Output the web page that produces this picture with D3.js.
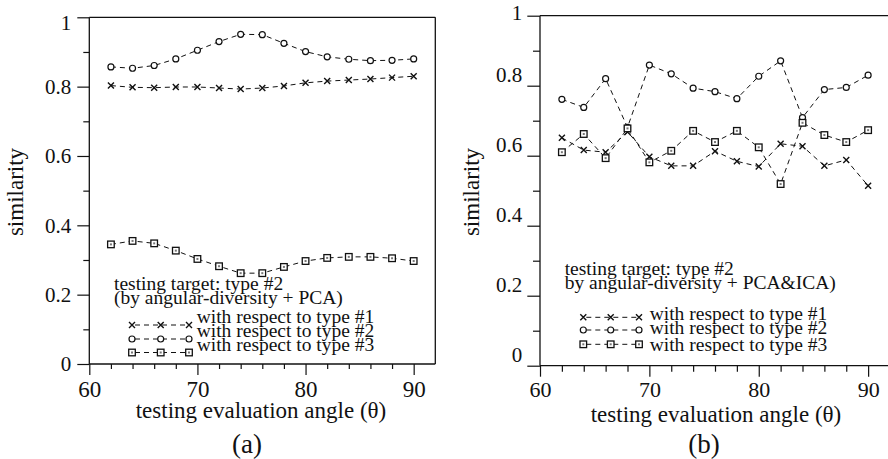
<!DOCTYPE html>
<html><head><meta charset="utf-8">
<script src="https://cdn.jsdelivr.net/npm/d3@7"></script>
<style>html,body{margin:0;padding:0;background:#fff;}svg{display:block;}</style>
</head><body><svg id="c" width="888" height="459"></svg>
<script>
const angles = [62,64,66,68,70,72,74,76,78,80,82,84,86,88,90];
const xTicksMajor = [60,70,80,90];
const yTickLabels = ["0","0.2","0.4","0.6","0.8","1"];
const yTicksMajor = [0,0.2,0.4,0.6,0.8,1];
const yTicksMinor = [0.1,0.3,0.5,0.7,0.9];
const xTicksMinor = [62,64,66,68,72,74,76,78,82,84,86,88];

// panel (a): angular-diversity + PCA
const aType1 = [0.803,0.798,0.797,0.799,0.799,0.796,0.793,0.796,0.802,0.811,0.816,0.819,0.822,0.826,0.830];
const aType2 = [0.857,0.853,0.861,0.880,0.905,0.930,0.951,0.950,0.925,0.901,0.886,0.879,0.875,0.876,0.880];
const aType3 = [0.345,0.355,0.348,0.327,0.303,0.282,0.262,0.262,0.280,0.297,0.306,0.309,0.309,0.305,0.297];

// panel (b): angular-diversity + PCA&ICA
const bType1 = [0.651,0.616,0.610,0.668,0.597,0.571,0.571,0.613,0.584,0.569,0.634,0.627,0.571,0.588,0.514];
const bType2 = [0.761,0.738,0.820,0.681,0.859,0.834,0.793,0.783,0.763,0.827,0.871,0.709,0.789,0.795,0.830];
const bType3 = [0.610,0.662,0.593,0.678,0.581,0.614,0.671,0.639,0.671,0.624,0.519,0.694,0.659,0.639,0.673];

const seriesLabels = ["with respect to type #1","with respect to type #2","with respect to type #3"];
const markerKinds = ["cross","circle","square"];
const xTitle = "testing evaluation angle (\u03b8)";
const yTitle = "similarity";

const FONT = "\"Liberation Serif\"";
const svg = d3.select("#c");
svg.append("rect").attr("width",888).attr("height",459).attr("fill","#fff");
const INK = "#111";

function marker(g, kind, x, y){
  if(kind==="cross"){
    g.append("path").attr("d",`M${x-3},${y-3}L${x+3},${y+3}M${x-3},${y+3}L${x+3},${y-3}`)
      .attr("stroke",INK).attr("stroke-width",1.4).attr("fill","none");
  } else if(kind==="circle"){
    g.append("circle").attr("cx",x).attr("cy",y).attr("r",3).attr("fill","#fff").attr("stroke",INK).attr("stroke-width",1.2);
  } else {
    g.append("rect").attr("x",x-3.3).attr("y",y-3.3).attr("width",6.6).attr("height",6.6).attr("fill","#fff").attr("stroke",INK).attr("stroke-width",1.3);
    g.append("rect").attr("x",x-1).attr("y",y-1).attr("width",2).attr("height",2).attr("fill","#777");
  }
}

function txt(g, size){ return g.append("text").style("font-family",FONT).style("font-size",size+"px").attr("fill",INK); }

function panel(cfg){
  const x = d3.scaleLinear().domain([60,92]).range([cfg.x0,cfg.x1]);
  const y = d3.scaleLinear().domain([0,1]).range([cfg.y0,cfg.y1]);
  const g = svg.append("g");
  // frame
  const fr = g.append("g").attr("stroke",INK).attr("stroke-width",1.3).attr("fill","none");
  fr.append("line").attr("x1",cfg.x0).attr("x2",cfg.x1).attr("y1",cfg.y1).attr("y2",cfg.y1);
  fr.append("line").attr("x1",cfg.x1).attr("x2",cfg.x1).attr("y1",cfg.y1).attr("y2",cfg.y0);
  // axes
  const xa = g.append("g").attr("transform",`translate(0,${cfg.y0})`)
    .call(d3.axisBottom(x).tickValues(xTicksMajor).tickSize(11).tickPadding(cfg.xPad).tickFormat(d3.format("d")));
  xa.select(".domain").attr("d",`M${cfg.x0},0H${cfg.x1}`).attr("stroke",INK).attr("stroke-width",1.3);
  xa.selectAll(".tick line").attr("stroke",INK).attr("stroke-width",1.2);
  xa.selectAll("text").style("font-size",cfg.xFs+"px").style("font-family",FONT).attr("fill",INK);
  const xm = g.append("g").attr("transform",`translate(0,${cfg.y0})`)
    .call(d3.axisBottom(x).tickValues(xTicksMinor).tickSize(cfg.xMinor).tickFormat(""));
  xm.select(".domain").remove();
  xm.selectAll(".tick line").attr("stroke",INK).attr("stroke-width",1.2);

  const ya = g.append("g").attr("transform",`translate(${cfg.x0},0)`)
    .call(d3.axisLeft(y).tickValues(yTicksMajor).tickSize(cfg.yMajor).tickPadding(cfg.yPad).tickFormat((d,i)=>yTickLabels[i]));
  ya.select(".domain").attr("d",`M0,${cfg.y0}V${cfg.y1}`).attr("stroke",INK).attr("stroke-width",1.3);
  ya.selectAll(".tick line").attr("stroke",INK).attr("stroke-width",1.2);
  ya.selectAll("text").style("font-size","21px").style("font-family",FONT).attr("fill",INK)
    .attr("dy",d=> d===1 ? cfg.oneDy : cfg.labDy);
  const ym = g.append("g").attr("transform",`translate(${cfg.x0},0)`)
    .call(d3.axisLeft(y).tickValues(yTicksMinor).tickSize(cfg.yMinor).tickFormat(""));
  ym.select(".domain").remove();
  ym.selectAll(".tick line").attr("stroke",INK).attr("stroke-width",1.2);

  // series
  const line = d3.line().x((d,i)=>x(angles[i])).y(d=>y(d));
  cfg.series.forEach((s,k)=>{
    g.append("path").attr("d",line(s)).attr("fill","none").attr("stroke",INK)
      .attr("stroke-width",1).attr("stroke-dasharray","5,4");
  });
  cfg.series.forEach((s,k)=>{
    s.forEach((v,i)=>marker(g, markerKinds[k], x(angles[i]), y(v)));
  });

  // titles
  txt(g,23).attr("x",cfg.xtX).attr("y",cfg.xtY).attr("text-anchor","middle").text(xTitle);
  txt(g,23).attr("transform",`translate(${cfg.ytX},${cfg.ytY}) rotate(-90)`).attr("text-anchor","middle").text(yTitle);
  txt(g,27).attr("x",cfg.capX).attr("y",cfg.capY).attr("text-anchor","middle").text(cfg.caption);

  // legend
  cfg.legendHead.forEach((t,i)=>{
    txt(g,19.5).attr("x",cfg.lhX).attr("y",cfg.lhY[i]).text(t);
  });
  seriesLabels.forEach((t,k)=>{
    const sy = cfg.symY[k];
    const [a,b,c] = cfg.symX;
    g.append("line").attr("x1",a).attr("x2",c).attr("y1",sy).attr("y2",sy)
      .attr("stroke",INK).attr("stroke-width",1).attr("stroke-dasharray","5,4").attr("stroke-dashoffset",-3);
    [a,b,c].forEach(px=>marker(g, markerKinds[k], px, sy));
    txt(g,19.5).attr("x",cfg.ltX).attr("y",cfg.ltY[k]).text(t);
  });
}

panel({
  x0:89.3, x1:435.3, y0:364, y1:17.3,
  xPad:6, xFs:23, xMinor:5, yMajor:12, yMinor:6, yPad:6, labDy:"0.32em", oneDy:"0.6em",
  series:[aType1,aType2,aType3],
  xtX:261, xtY:418, ytX:23, ytY:192, capX:247, capY:452.5, caption:"(a)",
  legendHead:["testing target: type #2","(by angular-diversity + PCA)"], lhX:114, lhY:[290,304],
  symX:[132,160.7,189], symY:[325,339,352.5], ltX:196.7, ltY:[322.5,336.7,350.7]
});
panel({
  x0:540, x1:890, y0:365.7, y1:15.7,
  xPad:4.5, xFs:22, xMinor:6, yMajor:12.7, yMinor:7, yPad:5, labDy:"-0.2em", oneDy:"0.2em",
  series:[bType1,bType2,bType3],
  xtX:716, xtY:421.5, ytX:479, ytY:192, capX:704, capY:452.5, caption:"(b)",
  legendHead:["testing target: type #2","by angular-diversity + PCA&ICA)"], lhX:564.7, lhY:[275,289.3],
  symX:[583.3,610.7,639], symY:[317.3,330,344.3], ltX:649.7, ltY:[320,334,350.7]
});
</script></body></html>
